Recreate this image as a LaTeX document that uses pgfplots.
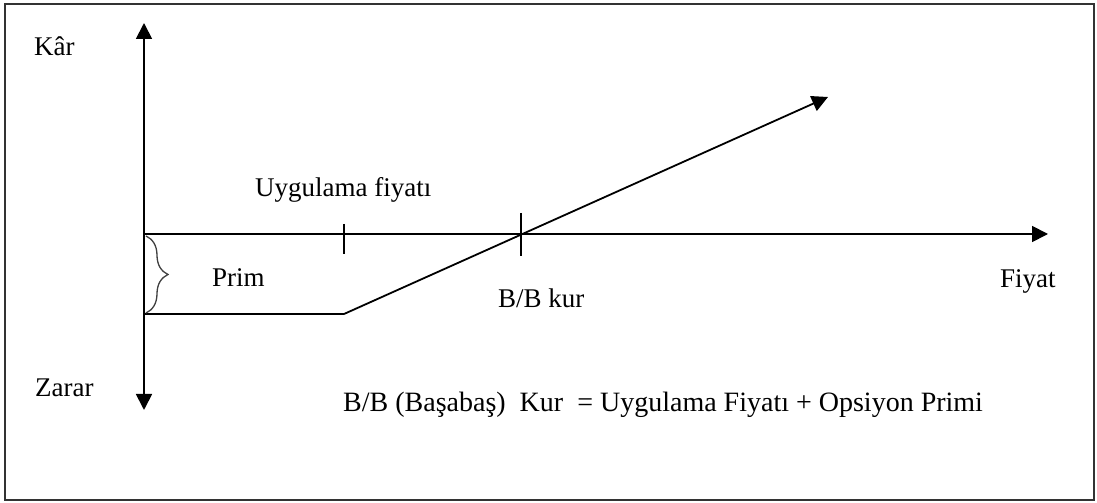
\documentclass[border=0pt]{standalone}
\usepackage{fontspec}
\setmainfont{Liberation Serif}
\usepackage{pgfplots}
\pgfplotsset{compat=1.18}
\usetikzlibrary{arrows.meta,decorations.pathreplacing}
\begin{document}
\begin{tikzpicture}
\begin{axis}[scale only axis, width=1097pt, height=503pt,
  xmin=0, xmax=1097, ymin=0, ymax=503, hide axis, clip=false]
\path (axis cs:0,0) rectangle (axis cs:1097,503);
\draw[line width=2.4pt, gray!40!black] (axis cs:5,3) rectangle (axis cs:1094,499);
% vertical axis
\addplot[black, line width=1.8pt, {Triangle[length=16pt,width=16pt]}-{Triangle[length=16pt,width=16pt]}] coordinates {(144,93) (144,480)};
% horizontal axis
\addplot[black, line width=1.8pt, -{Triangle[length=16pt,width=16pt]}] coordinates {(144,269) (1048,269)};
% payoff
\addplot[black, line width=1.8pt] coordinates {(144,189) (344,189)};
\addplot[black, line width=1.8pt, -{Triangle[length=16pt,width=16pt]}] coordinates {(344,189) (828,406)};
% ticks
\addplot[black, line width=1.8pt] coordinates {(344,279) (344,249)};
\addplot[black, line width=1.8pt] coordinates {(521,290) (521,247)};
% brace
\draw[gray!50!black, line width=1.3pt, decorate, decoration={brace, amplitude=22pt}] (axis cs:146,267) -- (axis cs:146,190);
% labels
\tikzset{lbl/.style={anchor=base west, inner sep=0pt, font=\fontsize{27}{32}\selectfont}}
\node[lbl] at (axis cs:34,447) {Kâr};
\node[lbl] at (axis cs:255,306) {Uygulama fiyatı};
\node[lbl] at (axis cs:212,216) {Prim};
\node[lbl] at (axis cs:498,195) {B/B kur};
\node[lbl] at (axis cs:1000,215) {Fiyat};
\node[lbl] at (axis cs:35,106) {Zarar};
\node[lbl, font=\fontsize{28}{32}\selectfont] at (axis cs:343,91) {B/B (Başabaş)\ \ Kur\ \ = Uygulama Fiyatı + Opsiyon Primi};
\end{axis}
\end{tikzpicture}
\end{document}
